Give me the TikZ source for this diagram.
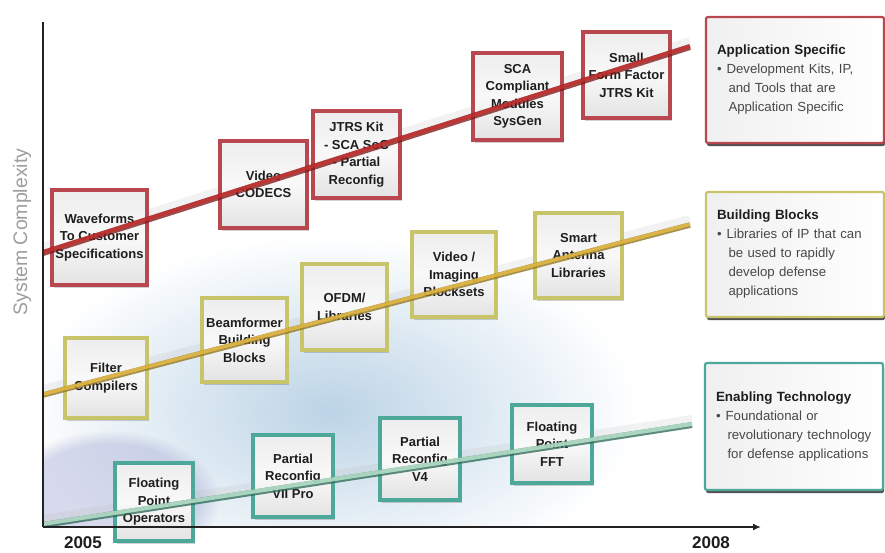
\documentclass[tikz,border=0pt]{standalone}
\usepackage{fontspec}
\setmainfont{Liberation Sans}
\usetikzlibrary{arrows.meta,shadows,fadings}
\definecolor{redbd}{HTML}{B8474F}
\definecolor{yelbd}{HTML}{C8C46A}
\definecolor{tealbd}{HTML}{4EA89A}
\definecolor{redln}{HTML}{C9302F}
\definecolor{redlnd}{HTML}{7E1A1A}
\definecolor{yelln}{HTML}{EDBE45}
\definecolor{yellnd}{HTML}{8E7420}
\definecolor{tealln}{HTML}{C2EBD3}
\definecolor{tealnd}{HTML}{2E6A58}
\definecolor{axisc}{HTML}{222222}
\definecolor{haze}{HTML}{BCD4E6}
\definecolor{lav}{HTML}{A8AED6}
\definecolor{txtc}{HTML}{1E1E1E}
\definecolor{bultc}{HTML}{484848}
\tikzset{
  item/.style={draw=#1, line width=3.4pt, top color=white!86!gray, bottom color=white!78!gray,
    middle color=white!95!gray, align=center, inner sep=1pt,
    font=\fontsize{13}{17.5}\selectfont\bfseries, text=txtc,
    drop shadow={shadow xshift=2pt, shadow yshift=-3pt, fill=black, opacity=0.18}},
  legend/.style={draw=#1, line width=2.2pt, rounded corners=2pt, left color=white!88!gray,
    right color=white, align=left, text width=156pt, inner sep=0pt, inner xsep=11pt,
    minimum width=176pt, font=\fontsize{13.2}{19}\selectfont, text=bultc,
    drop shadow={shadow xshift=1pt, shadow yshift=-3pt, fill=black!75, opacity=0.9}},
  ribbon/.style={line width=10pt, draw=black!30, opacity=0.17},
  year/.style={text=txtc, inner sep=0pt, font=\fontsize{17}{19}\selectfont\bfseries},
}
\newcommand{\ttlfont}{\color{txtc}\fontsize{13.4}{19}\selectfont\bfseries}
\newcommand{\bul}{\textbullet\hspace{5pt}}
\newcommand{\ind}{\hspace*{11.5pt}}
\begin{document}
\begin{tikzpicture}[x=1pt, y=-1pt]
  \useasboundingbox (0,0) rectangle (885,552);
  \fill[white] (0,0) rectangle (885,552);

  % soft blue haze behind the chart, kept inside the plot area
  \begin{scope}
    \clip (43,200) rectangle (700,527);
    \shade[inner color=haze, outer color=white] (330,410) ellipse [x radius=310pt, y radius=175pt];
    \fill[lav, path fading=circle with fuzzy edge 20 percent, opacity=0.45]
      (110,500) ellipse [x radius=110pt, y radius=70pt];
  \end{scope}

  % axis end points
  \coordinate (org) at (43,527);
  \coordinate (ytop) at (43,22);
  \coordinate (xend) at (761,527);

  % trend line end points
  \coordinate (ra) at (43,253);
  \coordinate (rb) at (690,47);
  \coordinate (ya) at (43,395);
  \coordinate (yb) at (690,225);
  \coordinate (ta) at (43,525);
  \coordinate (tb) at (692,425);

  % shadow ribbons of the trend lines
  \draw[ribbon] ([yshift=5pt]ra) -- ([yshift=5pt]rb);
  \draw[ribbon] ([yshift=5pt]ya) -- ([yshift=5pt]yb);
  \draw[ribbon] ([yshift=5pt]ta) -- ([yshift=5pt]tb);

  % application specific items
  \node[item=redbd, minimum width=95pt, minimum height=95pt] (wave) at (99.5,237.5) {Waveforms\\To Customer\\Specifications};
  \node[item=redbd, minimum width=87pt, minimum height=87pt] (codec) at (263.5,184.5) {Video\\CODECS};
  \node[item=redbd, minimum width=87pt, minimum height=87pt] (jtrs) at (356.5,154.5) {JTRS Kit\\- SCA SoC\\- Partial\\Reconfig};
  \node[item=redbd, minimum width=89pt, minimum height=87pt] (sca) at (517.5,96.5) {SCA\\Compliant\\Modules\\SysGen};
  \node[item=redbd, minimum width=87pt, minimum height=86pt] (sff) at (626.5,75) {Small\\Form Factor\\JTRS Kit};

  % building blocks
  \node[item=yelbd, minimum width=82pt, minimum height=80pt] (filt) at (106,378) {Filter\\Compilers};
  \node[item=yelbd, minimum width=85pt, minimum height=84pt] (beam) at (244.5,340) {Beamformer\\Building\\Blocks};
  \node[item=yelbd, minimum width=85pt, minimum height=86pt] (ofdm) at (344.5,307) {OFDM/\\Libraries};
  \node[item=yelbd, minimum width=84pt, minimum height=85pt] (vid) at (454,274.5) {Video /\\Imaging\\Blocksets};
  \node[item=yelbd, minimum width=87pt, minimum height=85pt] (ant) at (578.5,255.5) {Smart\\Antenna\\Libraries};

  % enabling technology
  \node[item=tealbd, minimum width=78pt, minimum height=78pt] (fpo) at (154,502) {Floating\\Point\\Operators};
  \node[item=tealbd, minimum width=80pt, minimum height=82pt] (prv2) at (293,476) {Partial\\Reconfig\\VII Pro};
  \node[item=tealbd, minimum width=80pt, minimum height=82pt] (prv4) at (420,459) {Partial\\Reconfig\\V4};
  \node[item=tealbd, minimum width=80pt, minimum height=78pt] (fft) at (552,444) {Floating\\Point\\FFT};

  % trend lines, drawn over the items
  \begin{scope}[opacity=0.78]
    \draw[redlnd, line width=6pt] (ra) -- (rb);
    \draw[redln, line width=3.5pt] ([yshift=0.9pt]ra) -- ([yshift=0.9pt]rb);
    \draw[yellnd, line width=5.5pt] (ya) -- (yb);
    \draw[yelln, line width=3.5pt] ([yshift=0.8pt]ya) -- ([yshift=0.8pt]yb);
    \draw[tealnd, line width=6pt] (ta) -- (tb);
    \draw[tealln, line width=4pt] ([yshift=1pt]ta) -- ([yshift=1pt]tb);
  \end{scope}

  % axes
  \draw[axisc, line width=2.4pt] (ytop) -- (org);
  \draw[axisc, line width=2.4pt, -{Latex[length=8pt, width=7pt]}] (org) -- (xend);
  \node[text=black!38, rotate=90, font=\fontsize{19.5}{21}\selectfont] (ylab) at (22,232) {System Complexity};
  \node[year] (y05) at (83,543) {2005};
  \node[year] (y08) at (711,543) {2008};

  % legend
  \node[legend=redbd, minimum height=126pt] (lapp) at (795,80) {%
    {\ttlfont Application Specific}\\
    \bul Development Kits, IP,\\
    \ind and Tools that are\\
    \ind Application Specific};
  \node[legend=yelbd, minimum height=125pt] (lbb) at (795,254.5) {%
    {\ttlfont Building Blocks}\\
    \bul Libraries of IP that can\\
    \ind be used to rapidly\\
    \ind develop defense\\
    \ind applications};
  \node[legend=tealbd, minimum height=127pt] (len) at (794,426.5) {%
    {\ttlfont Enabling Technology}\\
    \bul Foundational or\\
    \ind revolutionary technology\\
    \ind for defense applications};
\end{tikzpicture}
\end{document}
